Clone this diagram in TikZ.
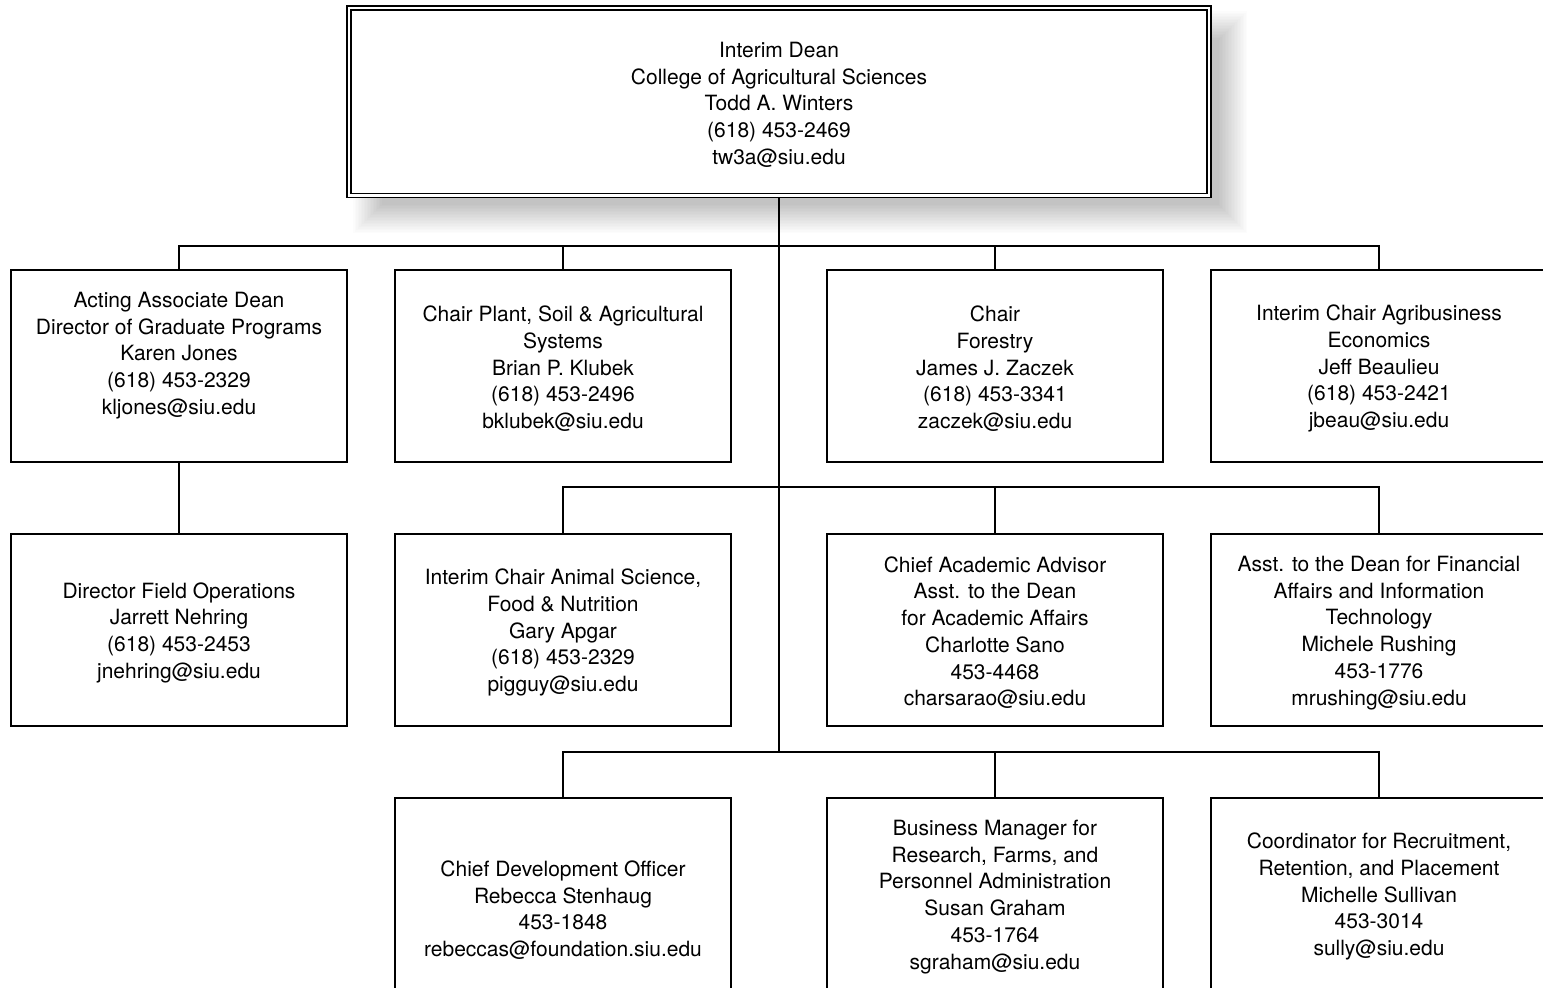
\documentclass[tikz,border=0pt]{standalone}
\usepackage{fontspec}
\setmainfont{TeX Gyre Heros}
\newcommand\fstrut{\rule{0pt}{21pt}}
\begin{document}
\begin{tikzpicture}[x=1pt,y=-1pt,
  every node/.style={font=\fontsize{21}{26.75}\selectfont, align=center},
  box/.style={draw, fill=white, line width=1.8pt, minimum width=336pt, minimum height=192pt, inner sep=0pt},
  deanbox/.style={draw, fill=white, double, line width=1.4pt, double distance=2.4pt,
     minimum width=860pt, minimum height=187.5pt, inner sep=0pt},
  conn/.style={line width=1.8pt}]
\useasboundingbox (0,0) rectangle (1543,988);
\clip (0,0) rectangle (1543,988);
\fill[white] (0,0) rectangle (1543,988);

% soft drop shadow of the dean box
\foreach \k in {0,...,19}{
  \fill[black, opacity=0.0105] ({368-15+1.5*\k},{26-15+1.5*\k}) rectangle ({1232+15-1.5*\k},{218+15-1.5*\k});
}

\node[deanbox] (top) at (779,101.75) {\fstrut Interim Dean\\College of Agricultural Sciences\\Todd A. Winters\\(618) 453-2469\\tw3a@siu.edu};

\node[box] (a1) at (179,366) {\fstrut Acting Associate Dean\\Director of Graduate Programs\\Karen Jones\\(618) 453-2329\\kljones@siu.edu\\\vphantom{Ag}};
\node[box] (b1) at (563,366) {\fstrut Chair Plant, Soil \& Agricultural\\Systems\\Brian P. Klubek\\(618) 453-2496\\bklubek@siu.edu};
\node[box] (c1) at (995,366) {\fstrut Chair\\Forestry\\James J. Zaczek\\(618) 453-3341\\zaczek@siu.edu};
\node[box] (d1) at (1379,366) {\fstrut Interim Chair Agribusiness\\Economics\\Jeff Beaulieu\\(618) 453-2421\\jbeau@siu.edu};

\node[box] (a2) at (179,630) {\fstrut Director Field Operations\\Jarrett Nehring\\(618) 453-2453\\jnehring@siu.edu};
\node[box] (b2) at (563,630) {\fstrut Interim Chair Animal Science,\\Food \& Nutrition\\Gary Apgar\\(618) 453-2329\\pigguy@siu.edu};
\node[box] (c2) at (995,630) {\fstrut Chief Academic Advisor\\Asst. to the Dean\\for Academic Affairs\\Charlotte Sano\\453-4468\\charsarao@siu.edu};
\node[box] (d2) at (1379,630) {\fstrut Asst. to the Dean for Financial\\Affairs and Information\\Technology\\Michele Rushing\\453-1776\\mrushing@siu.edu};

\node[box] (b3) at (563,894) {\fstrut\\Chief Development Officer\\Rebecca Stenhaug\\453-1848\\rebeccas@foundation.siu.edu};
\node[box] (c3) at (995,894) {\fstrut Business Manager for\\Research, Farms, and\\Personnel Administration\\Susan Graham\\453-1764\\sgraham@siu.edu};
\node[box] (d3) at (1379,894) {\fstrut Coordinator for Recruitment,\\Retention, and Placement\\Michelle Sullivan\\453-3014\\sully@siu.edu};

\coordinate (j1) at (779,246);
\coordinate (j2) at (779,487);
\coordinate (j3) at (779,752);

\draw[conn, shorten <=2pt] (top.south) -- (j3);
\draw[conn] (j1) -| (a1.north);
\draw[conn] (j1) -| (b1.north);
\draw[conn] (j1) -| (c1.north);
\draw[conn] (j1) -| (d1.north);
\draw[conn] (a1.south) -- (a2.north);
\draw[conn] (j2) -| (b2.north);
\draw[conn] (j2) -| (c2.north);
\draw[conn] (j2) -| (d2.north);
\draw[conn] (j3) -| (b3.north);
\draw[conn] (j3) -| (c3.north);
\draw[conn] (j3) -| (d3.north);
\end{tikzpicture}
\end{document}
